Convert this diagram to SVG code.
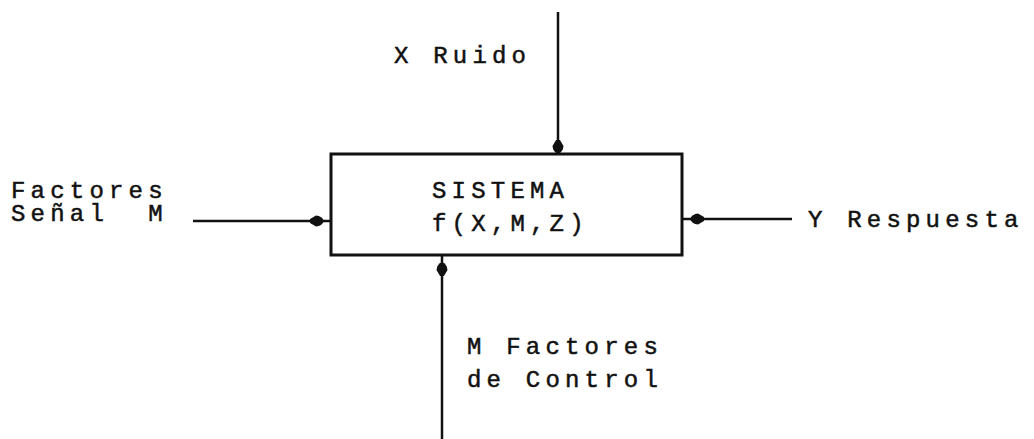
<svg xmlns="http://www.w3.org/2000/svg" width="1034" height="439" viewBox="0 0 1034 439">
  <style>
    .t { font-family: "Liberation Mono", "Courier New", monospace; font-size: 24px; letter-spacing: 5.2px; fill: #111; stroke: #111; stroke-width: 0.5; }
    .ln { stroke: #111; stroke-width: 2.5; fill: none; }
    .box { stroke: #111; stroke-width: 3; fill: #fff; }
  </style>
  <defs>
    <marker id="blob" viewBox="-16 -7 18 14" markerWidth="18" markerHeight="14" refX="0" refY="0" orient="auto" markerUnits="userSpaceOnUse">
      <path d="M-14,-2 L-8,-5.5 Q-2,-5 0,0 Q-2,5 -8,5.5 L-14,2 Z" fill="#111"/>
    </marker>
  </defs>
  <g id="connectors">
    <line class="ln" x1="558" y1="12" x2="558" y2="154" marker-end="url(#blob)"/>
    <line class="ln" x1="193" y1="221" x2="324" y2="221" marker-end="url(#blob)"/>
    <line class="ln" x1="324" y1="221" x2="331" y2="221"/>
    <line class="ln" x1="792" y1="219" x2="690" y2="219" marker-end="url(#blob)"/>
    <line class="ln" x1="690" y1="219" x2="682" y2="219"/>
    <line class="ln" x1="442" y1="439" x2="442" y2="262" marker-end="url(#blob)"/>
    <line class="ln" x1="442" y1="262" x2="442" y2="256"/>
  </g>
  <g id="sistema">
    <rect class="box" x="331" y="154" width="351" height="101"/>
    <text class="t" x="432" y="198">SISTEMA</text>
    <text class="t" x="432" y="231">f(X,M,Z)</text>
  </g>
  <g id="ruido">
    <text class="t" x="394" y="63">X Ruido</text>
  </g>
  <g id="senal">
    <text class="t" x="11" y="198">Factores</text>
    <text class="t" x="11" y="221" xml:space="preserve">Señal  M</text>
  </g>
  <g id="respuesta">
    <text class="t" x="808" y="227">Y Respuesta</text>
  </g>
  <g id="control">
    <text class="t" x="467" y="354">M Factores</text>
    <text class="t" x="467" y="387">de Control</text>
  </g>
</svg>
